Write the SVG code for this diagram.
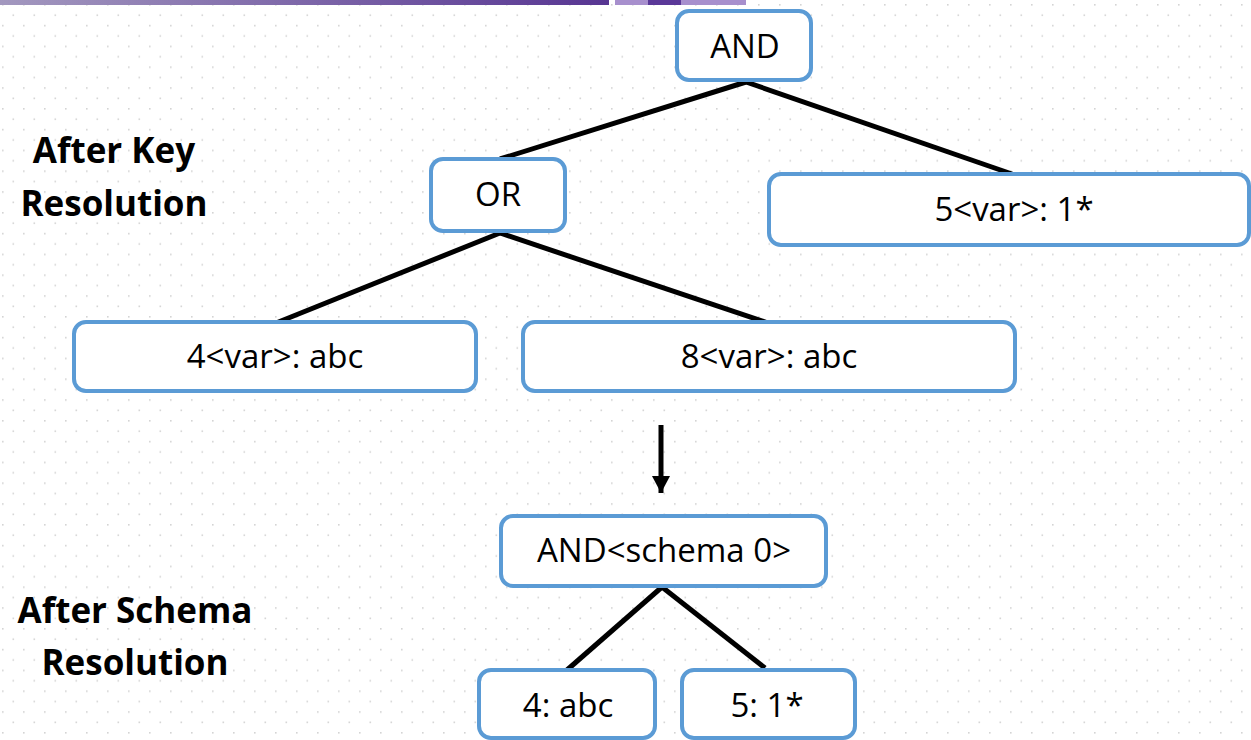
<svg xmlns="http://www.w3.org/2000/svg" width="1251" height="740" viewBox="0 0 1251 740">
  <defs>
    <pattern id="dots" x="2" y="4" width="21" height="20.8" patternUnits="userSpaceOnUse">
      <rect x="0" y="0" width="1.6" height="1.6" fill="#d4d4d4"/>
      <rect x="10.5" y="10.4" width="1.6" height="1.6" fill="#d4d4d4"/>
    </pattern>
    <linearGradient id="bar" x1="0" y1="0" x2="1" y2="0">
      <stop offset="0" stop-color="#a398bf"/>
      <stop offset="1" stop-color="#573592"/>
    </linearGradient>
    <marker id="arrow" viewBox="0 0 17 18" refX="17" refY="9" markerWidth="17" markerHeight="18" markerUnits="userSpaceOnUse" orient="auto">
      <path d="M0,0 L17,9 L0,18 Z" fill="#000"/>
    </marker>
    <style>
      .node rect { fill: #ffffff; stroke: #5b9bd5; stroke-width: 4; }
      .node text { font-family: "Open Sans", "Liberation Sans", sans-serif; font-size: 33px; fill: #000; text-anchor: middle; }
      .label text { font-family: "Open Sans", "Liberation Sans", sans-serif; font-size: 35px; font-weight: bold; fill: #000; text-anchor: middle; }
      .conn line { stroke: #000; stroke-width: 5; }
    </style>
  </defs>

  <rect x="0" y="0" width="1251" height="740" fill="#ffffff"/>
  <rect x="0" y="0" width="1251" height="740" fill="url(#dots)"/>

  <g id="topbar">
    <rect x="0" y="0" width="609" height="5" fill="url(#bar)"/>
    <rect x="615" y="0" width="33" height="5" fill="#a78fcd"/>
    <rect x="648" y="0" width="33" height="5" fill="#5a3898"/>
    <rect x="681" y="0" width="65" height="5" fill="#a78fcd"/>
  </g>

  <g id="connectors" class="conn">
    <line x1="746" y1="82" x2="500" y2="159"/>
    <line x1="746" y1="82" x2="1012" y2="174"/>
    <line x1="500" y1="233" x2="276" y2="323"/>
    <line x1="500" y1="233" x2="768" y2="323"/>
    <line x1="661" y1="425" x2="661" y2="493" marker-end="url(#arrow)"/>
    <line x1="662" y1="587" x2="567" y2="670"/>
    <line x1="662" y1="587" x2="765" y2="668"/>
  </g>

  <g id="label-key" class="label">
    <text x="114" y="163">After Key</text>
    <text x="114" y="216">Resolution</text>
  </g>
  <g id="label-schema" class="label">
    <text x="135" y="623">After Schema</text>
    <text x="135" y="675">Resolution</text>
  </g>

  <g id="node-and" class="node">
    <rect x="677" y="11" width="134" height="69" rx="12"/>
    <text x="745" y="58">AND</text>
  </g>
  <g id="node-or" class="node">
    <rect x="431" y="159" width="134" height="72" rx="12"/>
    <text x="498" y="206">OR</text>
  </g>
  <g id="node-5var" class="node">
    <rect x="769" y="174" width="480" height="71" rx="12"/>
    <text x="1014" y="221">5&lt;var&gt;: 1*</text>
  </g>
  <g id="node-4var" class="node">
    <rect x="74" y="322" width="402" height="69" rx="12"/>
    <text x="275" y="368">4&lt;var&gt;: abc</text>
  </g>
  <g id="node-8var" class="node">
    <rect x="523" y="322" width="492" height="69" rx="12"/>
    <text x="769" y="368">8&lt;var&gt;: abc</text>
  </g>
  <g id="node-schema" class="node">
    <rect x="501" y="516" width="325" height="70" rx="12"/>
    <text x="664" y="562">AND&lt;schema 0&gt;</text>
  </g>
  <g id="node-4" class="node">
    <rect x="479" y="670" width="176" height="68" rx="12"/>
    <text x="568" y="717">4: abc</text>
  </g>
  <g id="node-5" class="node">
    <rect x="682" y="670" width="173" height="68" rx="12"/>
    <text x="767" y="717">5: 1*</text>
  </g>
</svg>
